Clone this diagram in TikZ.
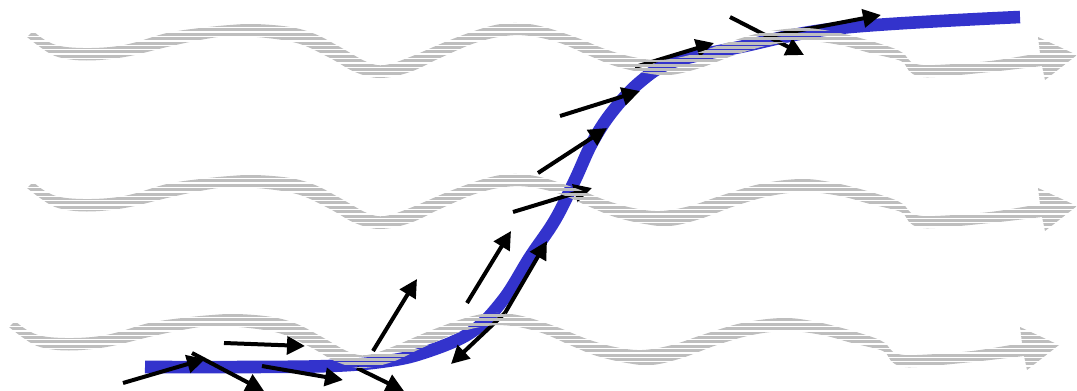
\documentclass[tikz,border=0pt]{standalone}
\usepackage{tikz}
\usepackage{xcolor}
\usetikzlibrary{arrows.meta}
\definecolor{PathBlue}{RGB}{51,51,204}
\definecolor{WaveGray}{RGB}{190,190,190}
\tikzset{
  hatchline/.style={draw=WaveGray,line width=1.5pt},
  bpath/.style={draw=PathBlue,line width=6.3pt},
  arr/.style={-{Triangle[length=9pt,width=9pt]},line width=2pt,black},
}
\newcommand\waveoutline{plot[smooth,tension=0.6] coordinates {(33,31)
  (45,40) (60,46) (83,48) (110,47) (133,43) (167,33) (200,28) (230,25) (255,24)
  (290,27) (315,34) (340,47) (367,62) (385,65) (410,57) (450,40) (487,27)
  (513,23) (540,26) (575,37) (605,49) (633,57) (660,60) (690,55) (720,45)
  (760,33) (800,28) (830,31) (860,38) (890,47) (903,53) (909,60) (916,64)
  (935,65) (990,61) (1040,53)}
  --(1038,37)--(1077,55)--(1045,80)
  --plot[smooth,tension=0.6] coordinates {(1042,66) (990,72) (935,77) (918,76)
  (909,71) (904,63) (895,59) (870,53) (840,45) (805,41) (770,45) (735,55)
  (700,68) (670,75) (645,73) (615,66) (590,56) (560,43) (530,36) (505,36)
  (475,43) (440,58) (410,72) (380,78) (355,72) (330,58) (300,44) (267,38)
  (230,36) (200,40) (167,47) (130,56) (100,60) (75,60) (55,56) (40,47) (27,37)}
  --cycle}

\begin{document}
\begin{tikzpicture}[x=0.5pt,y=-0.5pt]
        \useasboundingbox (0,0) rectangle (1077,391);
        \draw[bpath] plot[smooth,tension=0.6] coordinates {(145,367) (250,367) (330,366)
          (380,362) (420,354) (470,333) (503,300) (530,257) (555,220) (575,180)
          (592,143) (612,112) (640,82) (673,62) (740,47) (840,28) (1020,17)};
        \draw[arr] (123,383)--(205,359);
        \draw[arr] (192,353)--(264,391);
        \draw[arr] (224,343)--(305,346);
        \draw[arr] (262,366)--(343,380);
        \draw[arr] (357,368)--(404,391);
        \draw[arr] (373,351)--(417,279);
        \draw[arr] (467,303)--(511,231);
        \draw[arr] (505,313)--(547,241);
        \draw[arr] (505,313)--(451,364);
        \draw[arr] (513,212)--(592,188);
        \draw[arr] (538,173)--(607,128);
        \draw[arr] (560,116)--(640,91);
        \draw[arr] (635,67)--(714,43);
        \draw[arr] (730,17)--(804,55);
        \draw[arr] (770,36)--(881,15);
        \foreach \dx/\dy in {0/0,0/151,-18/290}{
          \begin{scope}[shift={(\dx,\dy)}]
            \clip \waveoutline;
            \foreach \s in {21,25.4,...,84}
              \draw[hatchline] (20,\s)--(1080,\s);
          \end{scope}
        }
      \end{tikzpicture}
\end{document}
